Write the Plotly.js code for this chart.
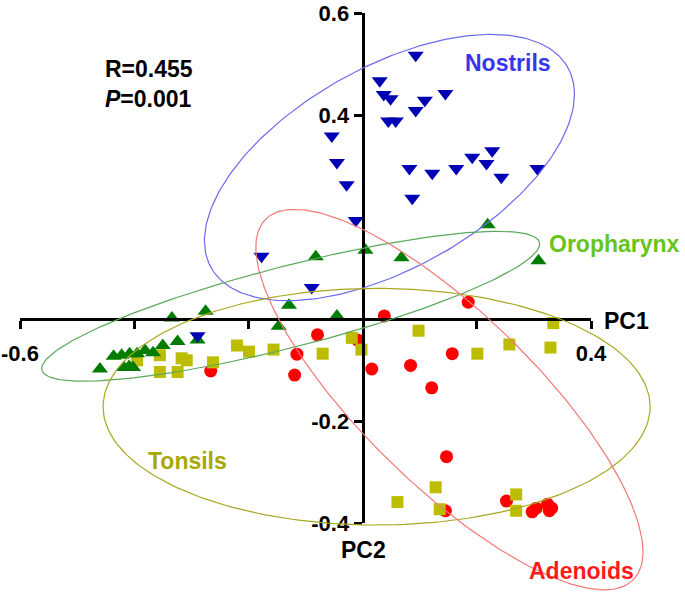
<!DOCTYPE html>
<html>
<head>
<meta charset="utf-8">
<script src="https://cdn.plot.ly/plotly-3.0.1.min.js"></script>
<style>html,body{margin:0;padding:0;background:#fff;}#chart{width:685px;height:598px;}</style>
</head>
<body>
<div id="chart"></div>
<script>
// ---- Data (PC1, PC2) ----
const nostrilsX = [0.093,0.030,0.037,0.049,0.045,0.058,0.093,0.109,0.145,0.082,0.122,0.164,0.192,0.217,0.227,0.243,0.306,0.087,-0.054,-0.045,-0.028,-0.012,-0.177,-0.089,-0.289];
const nostrilsY = [0.517,0.467,0.440,0.432,0.388,0.388,0.409,0.429,0.442,0.295,0.286,0.295,0.317,0.305,0.330,0.278,0.295,0.237,0.359,0.307,0.263,0.193,0.123,0.062,-0.033];

const oroX = [-0.460,-0.436,-0.422,-0.408,-0.395,-0.381,-0.367,-0.350,-0.324,-0.418,-0.409,-0.402,-0.334,-0.275,-0.289,-0.129,-0.147,-0.045,-0.082,0.005,0.068,0.219,0.308];
const oroY = [-0.098,-0.073,-0.071,-0.068,-0.068,-0.062,-0.066,-0.052,-0.044,-0.095,-0.093,-0.095,0.002,0.015,-0.041,0.027,-0.014,0.006,0.122,0.135,0.120,0.185,0.114];

const tonsilsX = [-0.395,-0.355,-0.317,-0.308,-0.355,-0.324,-0.262,-0.220,-0.199,-0.156,-0.070,-0.019,-0.002,0.098,0.201,0.257,0.329,0.334,0.061,0.128,0.135,0.269,0.269];
const tonsilsY = [-0.081,-0.071,-0.077,-0.081,-0.104,-0.104,-0.085,-0.052,-0.064,-0.060,-0.068,-0.037,-0.060,-0.023,-0.068,-0.050,-0.056,-0.008,-0.359,-0.330,-0.373,-0.344,-0.376];

const adenoidsX = [-0.266,-0.115,-0.119,-0.079,-0.009,0.016,0.038,0.185,0.084,0.157,0.121,0.147,0.145,0.252,0.297,0.304,0.324,0.331,0.327];
const adenoidsY = [-0.102,-0.069,-0.110,-0.031,-0.041,-0.098,0.006,0.033,-0.091,-0.068,-0.135,-0.270,-0.376,-0.357,-0.378,-0.371,-0.363,-0.371,-0.376];

// Ellipse parameters: [centerX, centerY, halfWidthX, halfHeightY, correlation]
const ellNostrils = [0.047, 0.297, 0.324, 0.261, 0.55];
const ellOro      = [-0.126, 0.025, 0.436, 0.147, 0.83];
const ellTonsils  = [0.0245, -0.172, 0.479, 0.232, 0.0];
const ellAdenoids = [0.152, -0.158, 0.339, 0.373, -0.80];

const xTickVals = [-0.6,-0.4,-0.2,0.2,0.4];
const xTickText = ['-0.6','','','','0.4'];
const yTickVals = [-0.4,-0.2,0.4,0.6];
const yTickText = ['-0.4','-0.2','0.4','0.6'];

// ---- Layout geometry ----
const W = 685, H = 598;
const PX0 = 20, PX1 = 591, PYT = 13, PYB = 523;
const xRange = [-0.6, 0.4], yRange = [-0.4, 0.6];
const xDom = [PX0 / W, PX1 / W];
const yDom = [(H - PYB) / H, (H - PYT) / H];
const kx = (PX1 - PX0) / (xRange[1] - xRange[0]);
const ky = (PYB - PYT) / (yRange[1] - yRange[0]);
const x2Range = [xRange[0] - PX0 / kx, xRange[1] + (W - PX1) / kx];
const y2Range = [yRange[0] - (H - PYB) / ky, yRange[1] + PYT / ky];
const xAxisPos = yDom[0] + (0 - yRange[0]) / (yRange[1] - yRange[0]) * (yDom[1] - yDom[0]);
const yAxisPos = xDom[0] + (0 - xRange[0]) / (xRange[1] - xRange[0]) * (xDom[1] - xDom[0]);

function ellipse(p) {
  const phi = Math.acos(p[4]);
  const xs = [], ys = [];
  for (let i = 0; i <= 240; i++) {
    const t = 2 * Math.PI * i / 240;
    xs.push(p[0] + p[2] * Math.cos(t));
    ys.push(p[1] + p[3] * Math.cos(t - phi));
  }
  return {x: xs, y: ys};
}

function ellTrace(p, color) {
  const e = ellipse(p);
  return {x: e.x, y: e.y, type: 'scatter', mode: 'lines', xaxis: 'x2', yaxis: 'y2',
          line: {color: color, width: 1.2}, hoverinfo: 'skip', showlegend: false};
}

const traces = [
  {x: adenoidsX, y: adenoidsY, type: 'scatter', mode: 'markers', name: 'Adenoids',
   marker: {symbol: 'circle', size: 13, color: '#ff0000'}},
  {x: tonsilsX, y: tonsilsY, type: 'scatter', mode: 'markers', name: 'Tonsils',
   marker: {symbol: 'square', size: 12, color: '#bdbd00'}},
  {x: oroX, y: oroY, type: 'scatter', mode: 'markers', name: 'Oropharynx',
   marker: {symbol: 'triangle-up', size: 14, color: '#007d00'}},
  {x: nostrilsX, y: nostrilsY, type: 'scatter', mode: 'markers', name: 'Nostrils',
   marker: {symbol: 'triangle-down', size: 14, color: '#0000b4'}},
  ellTrace(ellNostrils, '#6a6af0'),
  ellTrace(ellOro, '#5aa85a'),
  ellTrace(ellTonsils, '#a8a820'),
  ellTrace(ellAdenoids, '#f27878')
];

const FONT = 'Liberation Sans, Arial, Helvetica, sans-serif';
const lab = (text, x, y, color, xanchor) => ({
  text: text, x: x, y: y, xref: 'x2', yref: 'y2', showarrow: false,
  xanchor: xanchor || 'center', yanchor: 'middle',
  font: {family: FONT, size: 23, color: color, weight: 'bold'}
});

const layout = {
  width: W, height: H,
  margin: {l: 0, r: 0, t: 0, b: 0, pad: 0},
  paper_bgcolor: '#ffffff', plot_bgcolor: 'rgba(0,0,0,0)',
  showlegend: false,
  font: {family: FONT},
  xaxis: {
    domain: xDom, range: xRange, anchor: 'free', position: xAxisPos,
    showgrid: false, zeroline: false, showline: true, linecolor: '#000', linewidth: 3,
    ticks: 'outside', ticklen: 8, tickwidth: 3, tickcolor: '#000',
    tickvals: xTickVals, ticktext: xTickText, ticklabelstandoff: 6,
    ticklabeloverflow: 'allow',
    tickfont: {family: FONT, size: 22, color: '#000', weight: 'bold'}
  },
  yaxis: {
    domain: yDom, range: [yRange[0], yRange[1] + 1e-9], anchor: 'free', position: yAxisPos,
    showgrid: false, zeroline: false, showline: true, linecolor: '#000', linewidth: 3,
    ticks: 'outside', ticklen: 8, tickwidth: 3, tickcolor: '#000',
    tickvals: yTickVals, ticktext: yTickText, ticklabeloverflow: 'allow',
    tickfont: {family: FONT, size: 22, color: '#000', weight: 'bold'}
  },
  xaxis2: {domain: [0, 1], range: x2Range, anchor: 'y2', visible: false, fixedrange: true},
  yaxis2: {domain: [0, 1], range: y2Range, anchor: 'x2', visible: false, fixedrange: true},
  annotations: [
    lab('Nostrils', 0.255, 0.502, '#3535ee'),
    lab('Oropharynx', 0.441, 0.147, '#66c41a'),
    lab('Tonsils', -0.306, -0.278, '#a8a800'),
    lab('Adenoids', 0.383, -0.494, '#ff1a1a'),
    lab('R=0.455', -0.455, 0.490, '#000', 'left'),
    lab('<i>P</i>=0.001', -0.455, 0.432, '#000', 'left'),
    lab('PC1', 0.420, -0.004, '#000', 'left'),
    lab('PC2', 0.002, -0.452, '#000')
  ]
};

Plotly.newPlot('chart', traces, layout, {displayModeBar: false, staticPlot: true});
</script>
</body>
</html>
